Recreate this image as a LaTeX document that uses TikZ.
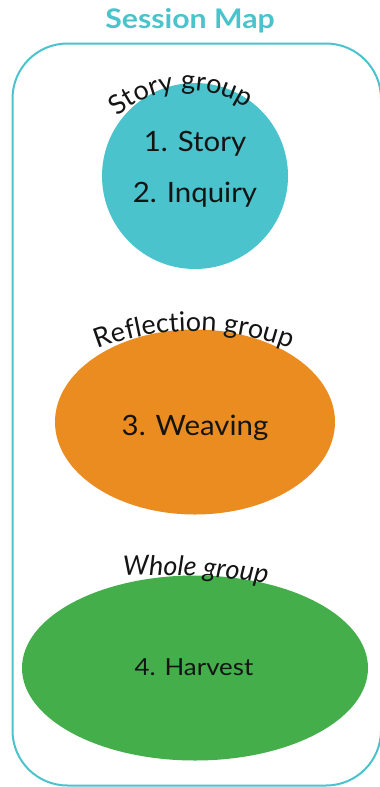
\documentclass[tikz,border=0pt]{standalone}
\usepackage{fontspec}
\setmainfont{Lato}
\newfontfamily\lblfont[FakeStretch=1.05]{Lato}
\newfontfamily\lastfont[FakeStretch=1.1]{Lato}
\newfontfamily\ttlfont[FakeStretch=1.12]{Lato}
\usetikzlibrary{shapes.geometric,decorations.text}
\definecolor{cteal}{HTML}{4AC3CC}
\definecolor{corange}{HTML}{EA8C1F}
\definecolor{cgreen}{HTML}{43AE4A}
\definecolor{cink}{HTML}{141414}

\begin{document}
\begin{tikzpicture}[x=1pt, y=1pt,
  blob/.style={draw=none, inner sep=0pt},
  lbl/.style={anchor=base, text=cink, inner sep=0pt, font=\lblfont\fontsize{28}{32}\selectfont},
  ttl/.style={anchor=base, text=cteal, inner sep=0pt, font=\ttlfont\bfseries\fontsize{27}{30}\selectfont},
  frame/.style={draw=cteal, line width=2pt, rounded corners=55pt},
  grouptxt/.style 2 args={decorate, decoration={text along path, text align=center,
    text={|#1\fontsize{27}{30}\selectfont\color{cink}|#2}}}]

\useasboundingbox (0,0) rectangle (380,-787);

% ---- title and outer frame
\node[ttl] (title) at (190,-28) {Session Map};
\draw[frame] (12.5,-43.5) rectangle (381,-785.5);

% ---- the three groups (y = -176, -422, -668)
\node[blob, circle, fill=cteal, minimum size=186pt] (story) at (195,-176) {};
\node[blob, ellipse, fill=corange, minimum width=280pt, minimum height=185pt] (refl) at (195,-422) {};
\node[blob, ellipse, fill=cgreen, minimum width=346pt, minimum height=185pt] (whole) at (195,-668) {};

% labels inside
\node[lbl] (s1) at (195,-151) {1. Story};
\node[lbl] (s2) at (195,-202) {2. Inquiry};
\node[lbl] (s3) at (195,-435) {3. Weaving};
\node[lbl, font=\lastfont\fontsize{23.5}{27}\selectfont] (s4) at (194,-675) {4. Harvest};

% curved group names
\path[grouptxt={}{Story group}] (188,-197) ++(154:107) arc[start angle=154, end angle=34, radius=107];
\path[grouptxt={}{Reflection group}] (194,-598) ++(110:267) arc[start angle=110, end angle=70, radius=267];
\path[grouptxt={\itshape}{Whole group}] (160,-1275) ++(99.1:700) arc[start angle=99.1, end angle=75.1, radius=700];
\end{tikzpicture}
\end{document}
